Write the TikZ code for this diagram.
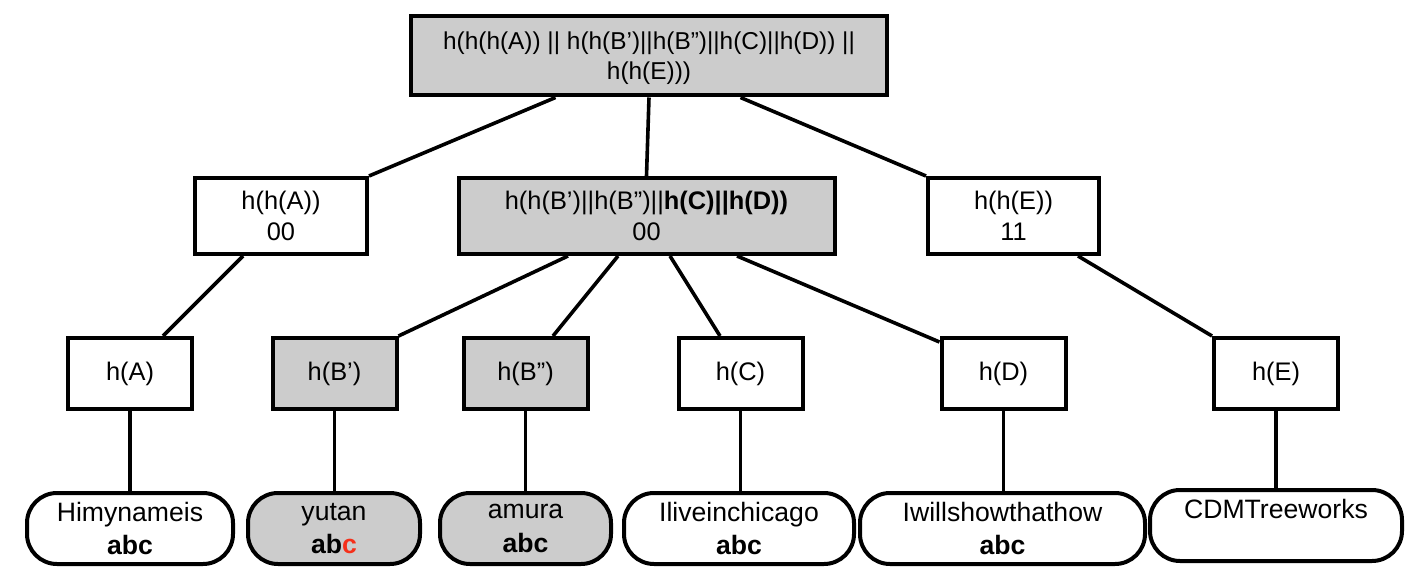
\documentclass[tikz,border=0pt]{standalone}
\usepackage{fontspec}
\setmainfont{Liberation Sans}
\definecolor{boxgray}{HTML}{CCCCCC}
\definecolor{flipred}{HTML}{F5301A}
\tikzset{
  hashbox/.style  = {draw, line width=2pt, rectangle, inner sep=0pt, align=center,
                     font=\fontsize{12.7}{15.5}\selectfont},
  graybox/.style  = {hashbox, fill=boxgray},
  innerbox/.style = {minimum height=38pt},
  leafbox/.style  = {minimum width=62pt, minimum height=35.5pt},
  databox/.style  = {hashbox, rounded corners=15pt, minimum height=35.5pt,
                     font=\fontsize{13.3}{16.8}\selectfont},
  link/.style     = {line width=1.8pt}
}
\begin{document}
\begin{tikzpicture}[x=0.5pt,y=-0.5pt]
  \useasboundingbox (0,0) rectangle (1418,588);
  % root
  \node[graybox, minimum width=238pt, minimum height=39.5pt,
        font=\fontsize{12.2}{15}\selectfont] (root) at (649,56)
        {\rule{0pt}{11pt}h(h(h(A)) || h(h(B’)||h(B”)||h(C)||h(D)) ||\\h(h(E)))};
  % second level
  \node[hashbox, innerbox, minimum width=86pt]   (hhA) at (281,216)    {h(h(A))\\00};
  \node[graybox, innerbox, minimum width=188pt]  (hhB) at (646.5,216)
        {h(h(B’)||h(B”)||\textbf{h(C)||h(D))}\\00};
  \node[hashbox, innerbox, minimum width=85.5pt] (hhE) at (1013.5,216) {h(h(E))\\11};
  % leaf hashes
  \node[hashbox, leafbox] (hA)  at (130,373.5)    {h(A)};
  \node[graybox, leafbox] (hB1) at (334.5,373.5)  {h(B’)};
  \node[graybox, leafbox] (hB2) at (525.5,373.5)  {h(B”)};
  \node[hashbox, leafbox] (hC)  at (740.5,373.5)  {h(C)};
  \node[hashbox, leafbox] (hD)  at (1003.5,373.5) {h(D)};
  \node[hashbox, leafbox] (hE)  at (1276,373.5)   {h(E)};
  % data blocks
  \node[databox, minimum width=103pt]           (dA)  at (130,528.5)    {Himynameis\\\textbf{abc}};
  \node[databox, fill=boxgray, minimum width=86pt] (dB1) at (334,528.5)
        {yutan\\\textbf{ab\textcolor{flipred}{c}}};
  \node[databox, fill=boxgray, minimum width=85.5pt] (dB2) at (525.5,528.5) {amura\\\textbf{abc}};
  \node[databox, minimum width=115pt]           (dC)  at (739,528.5)    {Iliveinchicago\\\textbf{abc}};
  \node[databox, minimum width=142.5pt]         (dD)  at (1002.5,528.5) {Iwillshowthathow\\\textbf{abc}};
  \node[databox, minimum width=126pt]           (dE)  at (1276,525.5)   {CDMTreeworks\\\rule{0pt}{0pt}};
  % links
  \draw[link] ([xshift=-46.75pt]root.south) -- (hhA.north east);
  \draw[link] (root.south) -- (hhB.north);
  \draw[link] ([xshift=45.75pt]root.south) -- (hhE.north west);
  \draw[link] ([xshift=-19pt]hhA.south) -- ([xshift=16.5pt]hA.north);
  \draw[link] ([xshift=-39.25pt]hhB.south) -- (hB1.north east);
  \draw[link] ([xshift=-14.25pt]hhB.south) -- ([xshift=13.75pt]hB2.north);
  \draw[link] ([xshift=11.75pt]hhB.south) -- ([xshift=-10.25pt]hC.north);
  \draw[link] ([xshift=45.25pt]hhB.south) -- ([yshift=-3pt]hD.north west);
  \draw[link] ([xshift=32.25pt]hhE.south) -- (hE.north west);
  \foreach \n in {A,B1,B2,C,D,E}
    \draw[link] (h\n.south) -- (h\n.south |- d\n.north);
\end{tikzpicture}
\end{document}
